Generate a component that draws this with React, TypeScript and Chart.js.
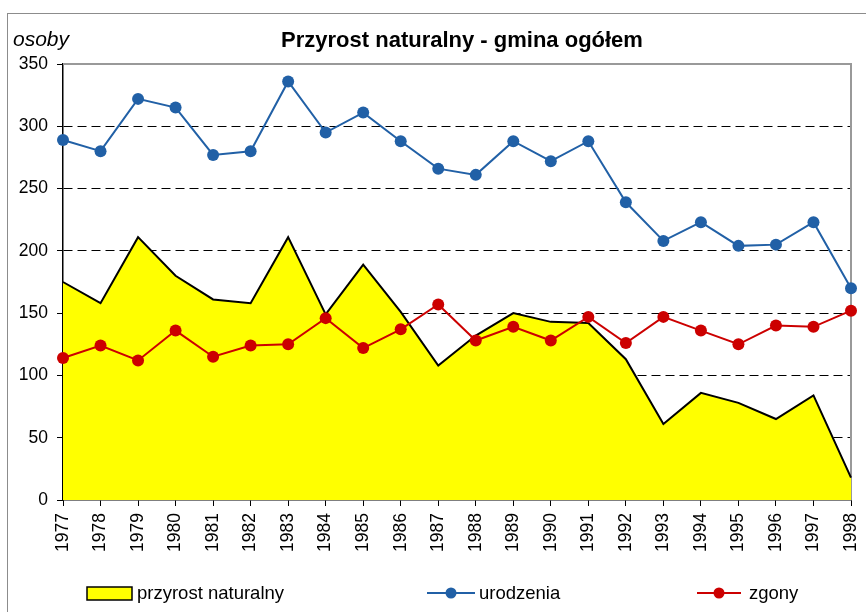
import { useEffect, useRef } from 'react';
import { Chart, registerables } from 'chart.js';

Chart.register(...registerables);

const years = ['1977', '1978', '1979', '1980', '1981', '1982', '1983', '1984', '1985', '1986', '1987', '1988', '1989', '1990', '1991', '1992', '1993', '1994', '1995', '1996', '1997', '1998'];
const przyrost = [175, 158, 211, 180, 161, 158, 211, 149, 189, 151, 108, 132, 150, 143, 142, 113, 61, 86, 78, 65, 84, 18];
const urodzenia = [289, 280, 322, 315, 277, 280, 336, 295, 311, 288, 266, 261, 288, 272, 288, 239, 208, 223, 204, 205, 223, 170];
const zgony = [114, 124, 112, 136, 115, 124, 125, 146, 122, 137, 157, 128, 139, 128, 147, 126, 147, 136, 125, 140, 139, 152];
const yMin = 0;
const yMax = 350;
const yStep = 50;
const titleText = 'Przyrost naturalny - gmina ogółem';
const unitText = 'osoby';
const seriesNames = ['przyrost naturalny', 'urodzenia', 'zgony'];

const FONT = '"Liberation Sans", Arial, sans-serif';
const YELLOW = '#FFFF00';
const BLUE = '#2160A6';
const RED = '#CC0000';

const decor = {
  id: 'decor',
  beforeDraw(chart: any) {
    const ctx = chart.ctx;
    ctx.save();
    ctx.fillStyle = '#fff';
    ctx.fillRect(0, 0, chart.width, chart.height);
    ctx.strokeStyle = '#8c8c8c';
    ctx.lineWidth = 1;
    ctx.strokeRect(7.5, 13.5, chart.width + 20, chart.height + 20);
    ctx.restore();
  },
  beforeDatasetsDraw(chart: any) {
    const ctx = chart.ctx;
    const { left, right, top, bottom } = chart.chartArea;
    ctx.save();
    ctx.strokeStyle = '#999';
    ctx.lineWidth = 2;
    ctx.beginPath();
    ctx.moveTo(left, top);
    ctx.lineTo(right, top);
    ctx.lineTo(right, bottom);
    ctx.stroke();
    ctx.restore();
  },
  afterDraw(chart: any) {
    const ctx = chart.ctx;
    ctx.save();
    ctx.fillStyle = '#000';
    ctx.textBaseline = 'alphabetic';
    ctx.font = `bold 22px ${FONT}`;
    ctx.textAlign = 'center';
    ctx.fillText(titleText, 462, 47);
    ctx.font = `italic 21px ${FONT}`;
    ctx.textAlign = 'left';
    ctx.fillText(unitText, 13, 46);

    // legend
    const ly = 593;
    ctx.font = `18.5px ${FONT}`;
    ctx.fillStyle = YELLOW;
    ctx.fillRect(87, 587, 45, 13);
    ctx.strokeStyle = '#000';
    ctx.lineWidth = 1.5;
    ctx.strokeRect(87, 587, 45, 13);
    ctx.fillStyle = '#000';
    ctx.fillText(seriesNames[0], 137, 599);

    const drawLineItem = (x0: number, x1: number, color: string, label: string, tx: number) => {
      ctx.strokeStyle = color;
      ctx.lineWidth = 2;
      ctx.beginPath();
      ctx.moveTo(x0, ly);
      ctx.lineTo(x1, ly);
      ctx.stroke();
      ctx.fillStyle = color;
      ctx.beginPath();
      ctx.arc((x0 + x1) / 2, ly, 5.5, 0, Math.PI * 2);
      ctx.fill();
      ctx.fillStyle = '#000';
      ctx.fillText(label, tx, 599);
    };
    drawLineItem(427, 475, BLUE, seriesNames[1], 479);
    drawLineItem(697, 741, RED, seriesNames[2], 749);
    ctx.restore();
  },
};

export default function App() {
  const ref = useRef<HTMLCanvasElement | null>(null);

  useEffect(() => {
    document.body.style.margin = '0';
    if (!ref.current) return;
    const chart = new Chart(ref.current, {
      type: 'line',
      data: {
        labels: years,
        datasets: [
          {
            label: seriesNames[0],
            data: przyrost,
            backgroundColor: YELLOW,
            borderColor: '#000',
            borderWidth: 2,
            fill: 'origin',
            pointRadius: 0,
            tension: 0,
            order: 3,
          },
          {
            label: seriesNames[1],
            data: urodzenia,
            borderColor: BLUE,
            backgroundColor: BLUE,
            borderWidth: 2,
            pointRadius: 6,
            pointBorderWidth: 0,
            pointBackgroundColor: BLUE,
            fill: false,
            tension: 0,
            order: 2,
          },
          {
            label: seriesNames[2],
            data: zgony,
            borderColor: RED,
            backgroundColor: RED,
            borderWidth: 2,
            pointRadius: 6,
            pointBorderWidth: 0,
            pointBackgroundColor: RED,
            fill: false,
            tension: 0,
            order: 1,
          },
        ],
      },
      options: {
        responsive: false,
        animation: false,
        devicePixelRatio: 1,
        layout: { padding: { top: 64, right: 15, left: 0, bottom: 0 } },
        plugins: {
          legend: { display: false },
          title: { display: false },
          tooltip: { enabled: false },
        },
        scales: {
          x: {
            type: 'category',
            offset: false,
            grid: { display: true, drawOnChartArea: false, tickLength: 6, color: '#000', tickColor: '#000' },
            border: { display: true, color: '#000', width: 1.5 },
            ticks: {
              autoSkip: false,
              minRotation: 90,
              maxRotation: 90,
              padding: 7,
              color: '#000',
              font: { family: FONT, size: 17.5 },
            },
            afterFit: (s: any) => {
              s.height = 112;
              s.paddingLeft = 0;
              s.paddingRight = 0;
            },
          },
          y: {
            min: yMin,
            max: yMax,
            ticks: {
              stepSize: yStep,
              padding: 9,
              color: '#000',
              font: { family: FONT, size: 17.5 },
            },
            grid: {
              color: (c: any) =>
                c.tick && (c.tick.value === yMin || c.tick.value === yMax) ? 'rgba(0,0,0,0)' : '#000',
              tickColor: '#000',
              tickLength: 6,
              lineWidth: 1,
            },
            border: { display: true, color: '#000', width: 1.5, dash: [9, 5] },
            afterFit: (s: any) => {
              s.width = 63;
              s.paddingTop = 0;
              s.paddingBottom = 0;
            },
          },
        },
      },
      plugins: [decor],
    });
    return () => chart.destroy();
  }, []);

  return (
    <div style={{ position: 'relative', width: 866, height: 612 }}>
      <canvas ref={ref} width={866} height={612} style={{ display: 'block' }} />
    </div>
  );
}
